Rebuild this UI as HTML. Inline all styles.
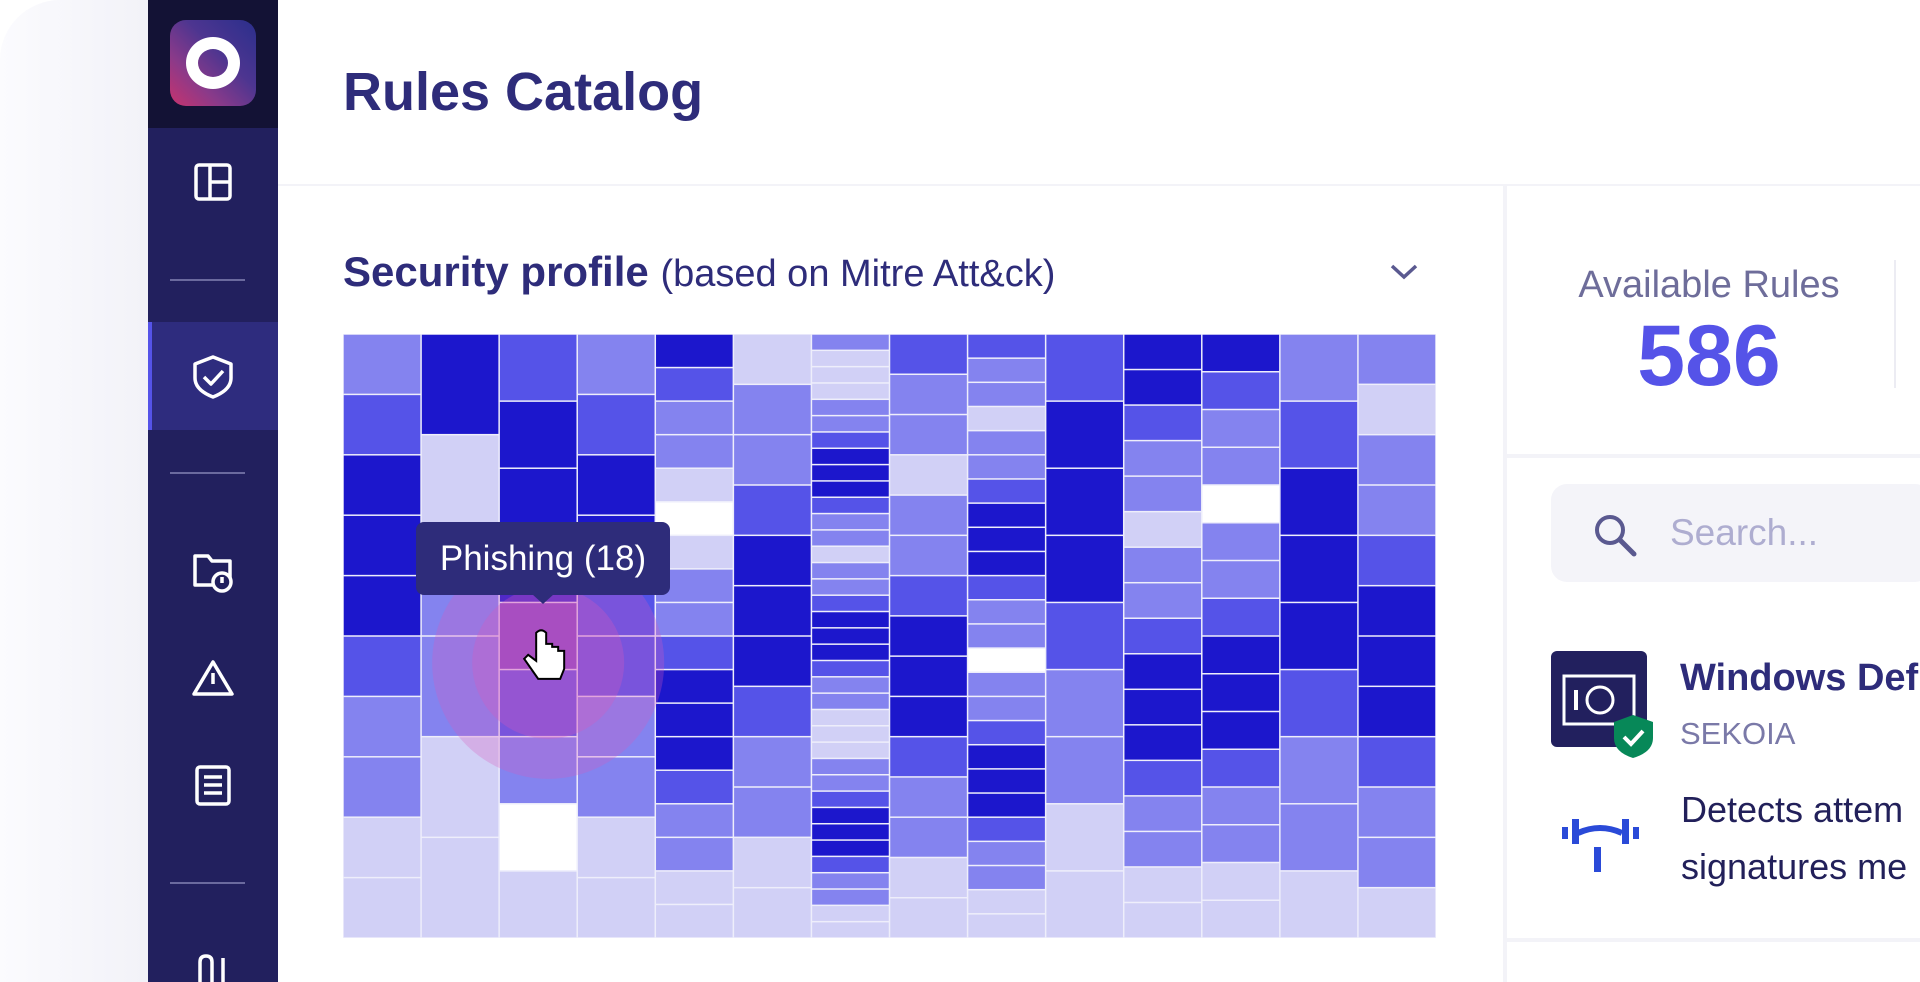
<!DOCTYPE html>
<html><head><meta charset="utf-8">
<style>
*{box-sizing:border-box;margin:0;padding:0}
body{width:1920px;height:982px;overflow:hidden;background:#fff;font-family:"Liberation Sans",sans-serif;position:relative}
.abs{position:absolute}
#outer{left:0;top:0;width:148px;height:982px;background:linear-gradient(90deg,#fbfbfe,#f2f2f8);border-top-left-radius:60px}
#sidebar{left:148px;top:0;width:130px;height:982px;background:#22205e}
#logo-area{left:148px;top:0;width:130px;height:128px;background:#131235}
#logo{left:170px;top:20px;width:86px;height:86px;border-radius:16px;background:linear-gradient(225deg,#2b2f8c 0%,#4d3590 40%,#8a3a8a 70%,#c8336e 100%)}
#logo:after{content:"";position:absolute;left:16px;top:17px;width:54px;height:52px;border-radius:50%;border:12px solid #fff;box-sizing:border-box}
.divider{left:170px;width:75px;height:2px;background:#6b6a9e}
#active{left:148px;top:322px;width:130px;height:108px;background:#2e2c7e;border-left:4px solid #5553e8}
#main-bg{left:278px;top:184px;width:1642px;height:798px;background:#f3f3f8}
#header{left:278px;top:0;width:1642px;height:182px;background:#fff}
#title{left:343px;top:61px;font-size:54px;font-weight:bold;color:#2e2c7a}
#left-panel{left:278px;top:186px;width:1225px;height:796px;background:#fff}
#right-top{left:1507px;top:186px;width:413px;height:268px;background:#fff}
#right-list{left:1507px;top:458px;width:413px;height:480px;background:#fff}
#right-bottom{left:1507px;top:942px;width:413px;height:40px;background:#fff}
#sp-title{left:343px;top:248px;font-size:42px;color:#2e2c7a;white-space:nowrap}
#sp-title b{font-weight:bold}
#sp-title span{font-size:38px}
#avail-label{left:1509px;top:264px;width:400px;text-align:center;font-size:38px;color:#6e6d9a}
#avail-num{left:1509px;top:307px;width:400px;text-align:center;font-size:86px;color:#5553e8;font-weight:bold}
#search{left:1551px;top:484px;width:380px;height:98px;background:#f4f4f9;border-radius:16px}
#search-text{left:1670px;top:512px;font-size:37px;color:#aeadd0}
#rule-title{left:1680px;top:657px;font-size:38px;font-weight:bold;color:#2e2c7a;white-space:nowrap}
#rule-vendor{left:1680px;top:716px;font-size:31px;color:#7a79a8}
.desc{left:1681px;font-size:36px;color:#22205a;white-space:nowrap}
#tooltip{left:416px;top:522px;width:254px;height:73px;background:#2e2c7a;border-radius:8px;color:#fff;font-size:35px;line-height:73px;text-align:center}
#tooltip:after{content:"";position:absolute;left:116px;top:72px;border:11px solid transparent;border-top:10px solid #2e2c7a}
</style></head>
<body>
<div class="abs" id="outer"></div>
<div class="abs" id="sidebar"></div>
<div class="abs" id="logo-area"></div>
<div class="abs" id="logo"></div>
<div class="abs" id="active"></div>
<div class="abs divider" style="top:279px"></div>
<div class="abs divider" style="top:472px"></div>
<div class="abs divider" style="top:882px"></div>

<svg class="abs" style="left:148px;top:0" width="130" height="982">
 <g fill="none" stroke="#fff" stroke-width="3.5" stroke-linejoin="round">
  <g><rect x="48" y="165" width="34" height="34" rx="3"/><line x1="62" y1="165" x2="62" y2="199"/><line x1="62" y1="182" x2="82" y2="182"/></g>
  <g><path d="M65 357 L83 364 L83 378 Q83 390 65 397 Q47 390 47 378 L47 364 Z"/><path d="M56 377 L63 384 L75 371"/></g>
  <g><path d="M47 556 L60 556 L64 561 L82 561 L82 585 L47 585 Z"/><circle cx="74" cy="582" r="9" fill="#22205e"/><line x1="74" y1="577" x2="74" y2="583"/></g>
  <g><path d="M65 662 L84 694 L46 694 Z"/><line x1="65" y1="673" x2="65" y2="684"/></g>
  <g><rect x="49" y="767" width="32" height="37" rx="3"/><line x1="56" y1="777" x2="74" y2="777"/><line x1="56" y1="785" x2="74" y2="785"/><line x1="56" y1="793" x2="74" y2="793"/></g>
  <g><path d="M52 982 L52 962 Q52 956 58 956 Q64 956 64 962 L64 982"/><line x1="75" y1="958" x2="75" y2="982"/></g>
 </g>
</svg>

<div class="abs" id="main-bg"></div>
<div class="abs" id="header"></div>
<div class="abs" id="title">Rules Catalog</div>
<div class="abs" id="left-panel"></div>
<div class="abs" id="right-top"></div>
<div class="abs" id="right-list"></div>
<div class="abs" id="right-bottom"></div>

<div class="abs" id="sp-title"><b>Security profile</b> <span>(based on Mitre Att&amp;ck)</span></div>
<svg class="abs" style="left:1388px;top:262px" width="32" height="20"><path d="M4 4 L16 15 L28 4" fill="none" stroke="#5a5990" stroke-width="3.5"/></svg>

<div class="abs" id="avail-label">Available Rules</div>
<div class="abs" id="avail-num">586</div>
<div class="abs" style="left:1894px;top:260px;width:2px;height:128px;background:#ececf3"></div>

<div class="abs" id="search"></div>
<svg class="abs" style="left:1590px;top:510px" width="50" height="50"><circle cx="20" cy="20" r="13" fill="none" stroke="#5a5990" stroke-width="4"/><line x1="30" y1="30" x2="44" y2="44" stroke="#5a5990" stroke-width="5" stroke-linecap="round"/></svg>
<div class="abs" id="search-text">Search...</div>

<svg class="abs" style="left:1550px;top:650px" width="110" height="112">
 <rect x="1" y="1" width="96" height="96" rx="6" fill="#22205e"/>
 <rect x="14" y="26" width="70" height="48" fill="none" stroke="#fff" stroke-width="3"/>
 <line x1="26" y1="40" x2="26" y2="60" stroke="#fff" stroke-width="4"/>
 <circle cx="50" cy="50" r="13" fill="none" stroke="#fff" stroke-width="3"/>
 <path d="M83 65 L103 72 L103 88 Q103 102 83 108 Q64 102 64 88 L64 72 Z" fill="#078858"/>
 <path d="M74 87 L81 94 L93 81" fill="none" stroke="#fff" stroke-width="4"/>
</svg>
<div class="abs" id="rule-title">Windows Def</div>
<div class="abs" id="rule-vendor">SEKOIA</div>
<svg class="abs" style="left:1560px;top:815px" width="90" height="60">
 <g fill="#2a4ad8"><rect x="2" y="12" width="6" height="12"/><rect x="12" y="4" width="7" height="25"/><rect x="62" y="4" width="7" height="25"/><rect x="73" y="12" width="6" height="12"/><rect x="34" y="32" width="7" height="25"/></g>
 <path d="M18 18 Q40 8 62 18" fill="none" stroke="#2a4ad8" stroke-width="6"/>
</svg>
<div class="abs desc" style="top:789px">Detects attem</div>
<div class="abs desc" style="top:846px">signatures me</div>

<svg class="abs" id="heatmap" style="left:0;top:0" width="1920" height="982"></svg>

<div class="abs" id="tooltip">Phishing (18)</div>

<script>
const columns = ["c1","c2","c3","c4","c5","c6","c7","c8","c9","c10","c11","c12","c13","c14"];
const col1 = [2,3,4,4,4,3,2,2,1,1];
const col2 = [4,1,2,2,1,1];
const col3 = [3,4,4,4,3,3,2,0,1];
const col4 = [2,3,4,4,3,3,2,2,1,1];
const col5 = [4,3,2,2,1,0,1,2,2,3,4,4,4,3,2,2,1,1];
const col6 = [1,2,2,3,4,4,4,3,2,2,1,1];
const col7 = [2,1,1,1,2,2,3,4,4,4,3,2,2,1,2,2,3,4,4,4,3,2,2,1,1,1,2,2,3,4,4,4,3,2,2,1,1];
const col8 = [3,2,2,1,2,2,3,4,4,4,3,2,2,1,1];
const col9 = [3,2,2,1,2,2,3,4,4,4,3,2,2,0,2,2,3,4,4,4,3,2,2,1,1];
const col10 = [3,4,4,4,3,2,2,1,1];
const col11 = [4,4,3,2,2,1,2,2,3,4,4,4,3,2,2,1,1];
const col12 = [4,3,2,2,0,2,2,3,4,4,4,3,2,2,1,1];
const col13 = [2,3,4,4,4,3,2,2,1];
const col14 = [2,1,2,2,3,4,4,4,3,2,2,1];
const values = [col1,col2,col3,col4,col5,col6,col7,col8,col9,col10,col11,col12,col13,col14];
const palette = ["#ffffff","#d1d0f6","#8483ef","#5553e8","#1c17cc"];
const hovered = {col:2,row:4};

const X0=343, X1=1436, Y0=334, Y1=938;
const svg=document.getElementById('heatmap');
const NS="http://www.w3.org/2000/svg";
const xScale=i=>X0+(X1-X0)*i/columns.length;
const yScale=(j,n)=>Y0+(Y1-Y0)*j/n;
const bg=document.createElementNS(NS,'rect');
bg.setAttribute('x',X0);bg.setAttribute('y',Y0);bg.setAttribute('width',X1-X0);bg.setAttribute('height',Y1-Y0);bg.setAttribute('fill','#eeeefb');


svg.appendChild(bg);
values.forEach((col,i)=>{
  const n=col.length;
  col.forEach((v,j)=>{
    const r=document.createElementNS(NS,'rect');
    const x=xScale(i), y=yScale(j,n);
    r.setAttribute('x',x+0.75);r.setAttribute('y',y+0.75);
    r.setAttribute('width',xScale(i+1)-x-1.5);r.setAttribute('height',yScale(j+1,n)-y-1.5);
    r.setAttribute('fill',(i===hovered.col&&j===hovered.row)?'#7b45c5':palette[v]);
    
    
    svg.appendChild(r);
  });
});
const hc=values[hovered.col].length;
const cx=(xScale(hovered.col)+xScale(hovered.col+1))/2+10;
const cy=yScale(hovered.row+0.9,hc);
[[116,'rgba(214,90,190,0.28)'],[76,'rgba(214,90,190,0.3)']].forEach(([rad,c])=>{
  const ci=document.createElementNS(NS,'circle');
  ci.setAttribute('cx',cx);ci.setAttribute('cy',cy);ci.setAttribute('r',rad);ci.setAttribute('fill',c);
  
  
  svg.appendChild(ci);
});
const hand=document.createElementNS(NS,'path');
hand.setAttribute('d',`M${cx-12} ${cy-30} l0 28 l-8 -6 l-4 4 l14 20 l22 0 l4 -10 l0 -18 l-6 0 l0 -4 l-6 0 l0 -3 l-6 0 l0 -11 q-5 -5 -10 0 z`);
hand.setAttribute('fill','#fff');hand.setAttribute('stroke','#000');hand.setAttribute('stroke-width','2');


svg.appendChild(hand);
</script>
</body></html>
